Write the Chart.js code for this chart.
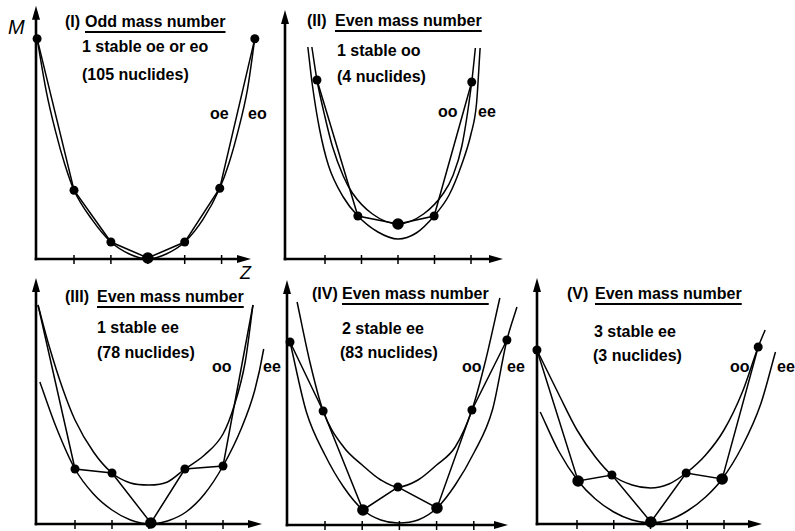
<!DOCTYPE html>
<html><head><meta charset="utf-8">
<script src="https://cdn.jsdelivr.net/npm/chart.js@4.4.1/dist/chart.umd.min.js"></script>
<style>
html,body{margin:0;padding:0;background:#fff;}
#wrap{position:relative;width:795px;height:531px;overflow:hidden;background:#fff;}
canvas{position:absolute;left:0;top:0;}
.t{position:absolute;font-family:"Liberation Sans",Arial,sans-serif;font-weight:bold;font-size:16px;line-height:16px;white-space:nowrap;color:#000;}
.u{text-decoration:underline;text-decoration-thickness:1.5px;text-underline-offset:4px;}
.i{font-weight:normal;font-style:italic;}
</style></head><body><div id="wrap">
<div class="t i" style="left:8px;top:17px;font-size:20px;line-height:20px;">M</div>
<div class="t i" style="left:240px;top:264px;font-size:18px;line-height:18px;">Z</div>

<div class="t" style="left:65px;top:14px;">(I)</div>
<div class="t u" style="left:85px;top:14px;">Odd mass number</div>
<div class="t" style="left:82px;top:39px;">1 stable oe or eo</div>
<div class="t" style="left:82px;top:67px;">(105 nuclides)</div>
<div class="t" style="left:210px;top:106px;">oe</div>
<div class="t" style="left:248px;top:106px;">eo</div>

<div class="t" style="left:307px;top:13px;">(II)</div>
<div class="t u" style="left:335px;top:13px;">Even mass number</div>
<div class="t" style="left:337px;top:43px;">1 stable oo</div>
<div class="t" style="left:337px;top:69px;">(4 nuclides)</div>
<div class="t" style="left:438px;top:104px;">oo</div>
<div class="t" style="left:478px;top:104px;">ee</div>

<div class="t" style="left:65px;top:289px;">(III)</div>
<div class="t u" style="left:97px;top:289px;">Even mass number</div>
<div class="t" style="left:97px;top:320px;">1 stable ee</div>
<div class="t" style="left:97px;top:345px;">(78 nuclides)</div>
<div class="t" style="left:212px;top:359px;">oo</div>
<div class="t" style="left:263px;top:359px;">ee</div>

<div class="t" style="left:312px;top:286px;">(IV)</div>
<div class="t u" style="left:342px;top:286px;">Even mass number</div>
<div class="t" style="left:342px;top:321px;">2 stable ee</div>
<div class="t" style="left:340px;top:345px;">(83 nuclides)</div>
<div class="t" style="left:462px;top:359px;">oo</div>
<div class="t" style="left:507px;top:359px;">ee</div>

<div class="t" style="left:567px;top:286px;">(V)</div>
<div class="t u" style="left:595px;top:286px;">Even mass number</div>
<div class="t" style="left:594px;top:324px;">3 stable ee</div>
<div class="t" style="left:593px;top:348px;">(3 nuclides)</div>
<div class="t" style="left:730px;top:359px;">oo</div>
<div class="t" style="left:777px;top:359px;">ee</div>
</div>
<script>
// ---- data (Z = proton number offset, M = mass, arbitrary units) ----
const tickZ = [1, 2, 3, 4, 5];

// Panel I
const p1DotZ = [0, 1, 2, 3, 4, 4.95, 5.9];
const p1DotM = [22.1, 6.9, 1.7, 0.1, 1.7, 7.1, 22.1];
const p1Stable = [false, false, false, true, false, false, false];
const p1CurveZ = [0, 0.25, 0.5, 0.75, 1, 1.5, 2, 2.5, 3, 3.5, 4, 4.5, 4.95, 5.2, 5.45, 5.7, 5.9];
const p1CurveM = [22.1, 16.8, 12.8, 9.5, 6.9, 3.9, 1.7, 0.5, 0.0, 0.5, 1.7, 4.0, 7.1, 9.6, 12.9, 17.0, 22.1];

// Panel II
const p2DotZ = [0.78, 1.9, 3.0, 3.99, 5.02];
const p2DotM = [17.9, 4.3, 3.5, 4.3, 17.7];
const p2Stable = [false, false, true, false, false];
const p2OoZ = [0.64, 0.78, 1.0, 1.2, 1.5, 1.75, 2.3, 3.0, 3.7, 4.25, 4.5, 4.75, 5.02, 5.12];
const p2OoM = [21.2, 17.9, 14.2, 11.3, 8.3, 6.6, 4.5, 3.5, 4.5, 6.6, 8.3, 11.3, 17.7, 21.1];
const p2EeZ = [0.53, 0.65, 0.85, 1.1, 1.5, 1.9, 2.45, 3.0, 3.5, 3.99, 4.4, 4.75, 5.0, 5.15, 5.25];
const p2EeM = [21.2, 17.5, 13.0, 9.3, 6.2, 4.3, 2.7, 2.0, 2.6, 4.3, 6.4, 9.5, 12.5, 15.5, 21.1];

// Panel III
const p3DotZ = [1.0, 2.0, 3.05, 3.97, 5.0];
const p3DotM = [5.5, 5.1, 0.1, 5.5, 5.8];
const p3Stable = [false, false, true, false, false];
const p3LineZ = [0, 1.0, 2.0, 3.05, 3.97, 5.0, 5.81];
const p3LineM = [21.9, 5.5, 5.1, 0.1, 5.5, 5.8, 21.9];
const p3OoZ = [0, 0.3, 0.68, 1.0, 1.5, 2.0, 2.5, 3.0, 3.5, 3.97, 4.5, 5.0, 5.3, 5.6, 5.81];
const p3OoM = [21.9, 17.8, 13.4, 10.4, 7.2, 5.1, 4.1, 3.9, 4.2, 5.5, 6.9, 9.0, 11.8, 16.2, 21.9];
const p3EeZ = [0.05, 0.5, 1.0, 1.5, 2.0, 2.5, 3.05, 3.5, 4.0, 4.5, 5.0, 5.5, 5.86, 6.1, 6.27];
const p3EeM = [14.2, 9.6, 5.5, 3.0, 1.4, 0.4, 0.0, 0.3, 1.2, 3.0, 5.8, 9.6, 13.4, 17.5, 21.9];

// Panel IV
const p4DotZ = [0.06, 0.95, 2.02, 2.96, 4.01, 4.95, 5.89];
const p4DotM = [18.3, 11.4, 1.5, 3.8, 1.7, 11.5, 18.5];
const p4Stable = [false, false, true, false, true, false, false];
const p4OoZ = [0.25, 0.6, 0.95, 1.5, 2.0, 2.5, 2.96, 3.5, 4.0, 4.5, 4.95, 5.3, 5.7];
const p4OoM = [22.3, 16.2, 11.4, 7.8, 6.0, 4.5, 3.8, 4.5, 6.0, 7.8, 11.5, 16.2, 22.7];
const p4EeZ = [0.06, 0.5, 1.0, 1.5, 2.02, 2.5, 2.96, 3.5, 4.01, 4.5, 5.0, 5.5, 5.89, 6.16];
const p4EeM = [18.3, 11.3, 7.0, 3.8, 1.5, 0.5, 0.2, 0.5, 1.7, 4.0, 7.2, 11.5, 18.5, 21.8];

// Panel V
const p5DotZ = [-0.09, 1.03, 1.95, 3.01, 3.97, 4.95, 5.93];
const p5DotM = [17.4, 4.3, 4.9, 0.2, 5.1, 4.5, 17.7];
const p5Stable = [false, true, false, true, false, true, false];
const p5OoZ = [-0.09, 0.5, 1.0, 1.5, 1.95, 2.5, 3.0, 3.5, 3.97, 4.5, 5.0, 5.5, 5.93, 6.12];
const p5OoM = [17.4, 13.0, 9.4, 6.7, 4.9, 3.9, 3.6, 4.0, 5.1, 6.9, 9.4, 13.2, 17.7, 19.4];
const p5EeZ = [0.0, 0.5, 1.03, 1.5, 2.0, 2.5, 3.01, 3.5, 4.0, 4.5, 4.95, 5.5, 6.0, 6.4];
const p5EeM = [11.2, 7.3, 4.3, 2.5, 1.2, 0.4, 0.1, 0.4, 1.3, 2.7, 4.5, 7.8, 12.0, 17.2];

// ---- drawing ----
const W = 795, H = 531;
const wrap = document.getElementById('wrap');
function pts(zs, ms) { return zs.map((z, i) => ({ x: z, y: ms[i] })); }

const axesPlugin = {
  id: 'axes',
  beforeDatasetsDraw(chart) {
    const { ctx, chartArea: a, scales: { x } } = chart;
    ctx.save();
    ctx.strokeStyle = '#000'; ctx.fillStyle = '#000';
    ctx.lineWidth = 2.6;
    ctx.beginPath(); ctx.moveTo(a.left, a.bottom + 1.3); ctx.lineTo(a.left, a.top + 10); ctx.stroke();
    ctx.beginPath(); ctx.moveTo(a.left - 1.3, a.bottom); ctx.lineTo(a.right - 10, a.bottom); ctx.stroke();
    ctx.beginPath(); ctx.moveTo(a.left, a.top); ctx.lineTo(a.left - 4, a.top + 14); ctx.lineTo(a.left + 4, a.top + 14); ctx.closePath(); ctx.fill();
    ctx.beginPath(); ctx.moveTo(a.right, a.bottom); ctx.lineTo(a.right - 14, a.bottom - 4); ctx.lineTo(a.right - 14, a.bottom + 4); ctx.closePath(); ctx.fill();
    ctx.lineWidth = 1.5;
    for (const t of tickZ) {
      const px = x.getPixelForValue(t);
      ctx.beginPath(); ctx.moveTo(px, a.bottom - 4); ctx.lineTo(px, a.bottom + 5); ctx.stroke();
    }
    ctx.restore();
  }
};

function curveDs(zs, ms) {
  return { data: pts(zs, ms), showLine: true, pointRadius: 0, borderColor: '#000', borderWidth: 1.5,
           cubicInterpolationMode: 'monotone', tension: 0.4, clip: false, fill: false };
}
function polyDs(zs, ms) {
  return { data: pts(zs, ms), showLine: true, pointRadius: 0, borderColor: '#000', borderWidth: 1.5,
           tension: 0, clip: false, fill: false };
}
function dotDs(zs, ms, stable) {
  return { data: pts(zs, ms), showLine: false, clip: false,
           pointRadius: c => stable[c.dataIndex] ? 5.8 : 4.5,
           pointBackgroundColor: '#000', pointBorderColor: '#000', pointBorderWidth: 0 };
}

function panel(geo, datasets) {
  const c = document.createElement('canvas');
  c.width = W; c.height = H; c.style.width = W + 'px'; c.style.height = H + 'px';
  wrap.appendChild(c);
  const xmin = 1 + (geo.axisX - geo.z1X) / geo.dx;
  const xmax = 1 + (geo.rightX - geo.z1X) / geo.dx;
  const ymax = (geo.axisY - geo.topY) / 10;
  new Chart(c, {
    type: 'scatter',
    data: { datasets },
    options: {
      responsive: false, animation: false, devicePixelRatio: 1, events: [],
      layout: { padding: { left: geo.axisX, top: geo.topY, right: W - geo.rightX, bottom: H - geo.axisY } },
      scales: {
        x: { type: 'linear', min: xmin, max: xmax, display: false },
        y: { type: 'linear', min: 0, max: ymax, display: false }
      },
      plugins: { legend: { display: false }, tooltip: { enabled: false }, title: { display: false } }
    },
    plugins: [axesPlugin]
  });
}

panel({ axisX: 36, axisY: 259, topY: 5, rightX: 251, z1X: 74, dx: 36.9 }, [
  dotDs(p1DotZ, p1DotM, p1Stable),
  polyDs(p1DotZ, p1DotM),
  curveDs(p1CurveZ, p1CurveM)
]);
panel({ axisX: 285, axisY: 259, topY: 10, rightX: 503, z1X: 325, dx: 36.5 }, [
  dotDs(p2DotZ, p2DotM, p2Stable),
  polyDs(p2DotZ, p2DotM),
  curveDs(p2OoZ, p2OoM),
  curveDs(p2EeZ, p2EeM)
]);
panel({ axisX: 36, axisY: 524, topY: 278, rightX: 262, z1X: 75, dx: 37 }, [
  dotDs(p3DotZ, p3DotM, p3Stable),
  polyDs(p3LineZ, p3LineM),
  curveDs(p3OoZ, p3OoM),
  curveDs(p3EeZ, p3EeM)
]);
panel({ axisX: 287, axisY: 525, topY: 280, rightX: 508, z1X: 325, dx: 37.2 }, [
  dotDs(p4DotZ, p4DotM, p4Stable),
  polyDs(p4DotZ, p4DotM),
  curveDs(p4OoZ, p4OoM),
  curveDs(p4EeZ, p4EeM)
]);
panel({ axisX: 537, axisY: 524, topY: 278, rightX: 762, z1X: 577, dx: 36.75 }, [
  dotDs(p5DotZ, p5DotM, p5Stable),
  polyDs(p5DotZ, p5DotM),
  curveDs(p5OoZ, p5OoM),
  curveDs(p5EeZ, p5EeM)
]);
</script>
</body></html>
